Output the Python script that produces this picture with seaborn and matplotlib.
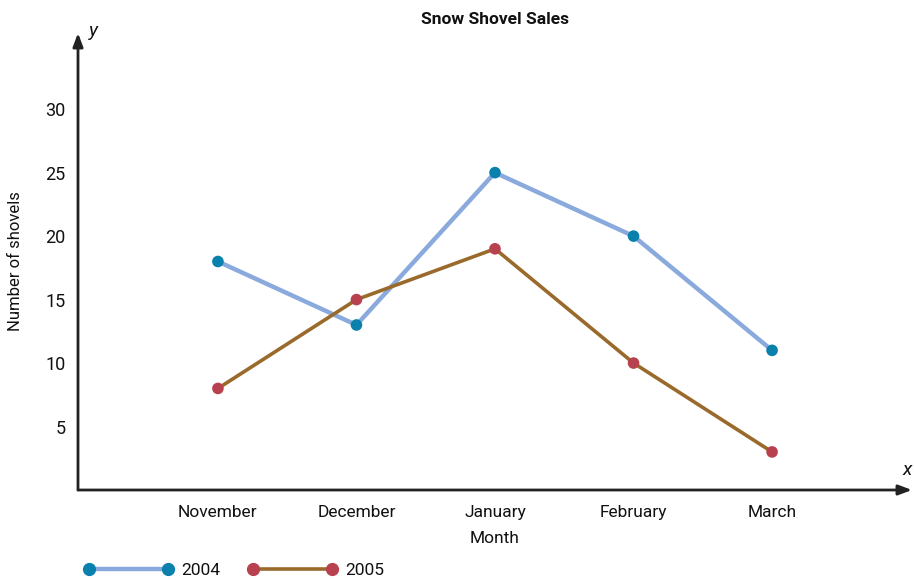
import matplotlib
matplotlib.use("Agg")
import matplotlib.pyplot as plt
import pandas as pd
import seaborn as sns
from matplotlib.lines import Line2D

months = ["November", "December", "January", "February", "March"]
sales_2004 = [18, 13, 25, 20, 11]
sales_2005 = [8, 15, 19, 10, 3]
years = ["2004", "2005"]
y_ticks = [5, 10, 15, 20, 25, 30]

line_colors = {"2004": "#8aaadd", "2005": "#9a6a2c"}
dot_colors = {"2004": "#0a80ad", "2005": "#b8414f"}
line_widths = {"2004": 3.2, "2005": 2.6}

df = pd.DataFrame({
    "month": months * 2,
    "sales": sales_2004 + sales_2005,
    "year": ["2004"] * len(months) + ["2005"] * len(months),
})

sns.set_style("white")
plt.rcParams["font.family"] = ["Roboto", "DejaVu Sans"]
plt.rcParams["text.color"] = "#111111"
plt.rcParams["axes.labelcolor"] = "#111111"
plt.rcParams["xtick.color"] = "#111111"
plt.rcParams["ytick.color"] = "#111111"

fig = plt.figure(figsize=(9.14, 5.8), dpi=100)
ax = fig.add_axes([78 / 914, 90 / 580, 834 / 914, 457 / 580])

for yr in years:
    sub = df[df["year"] == yr]
    sns.lineplot(data=sub, x="month", y="sales", color=line_colors[yr],
                 linewidth=line_widths[yr], sort=False, ax=ax, legend=False)
    sns.scatterplot(data=sub, x="month", y="sales", color=dot_colors[yr],
                    s=70, edgecolor="none", zorder=5, ax=ax, legend=False)

ax.set_xlim(-1.01, 5.01)
ax.set_ylim(0, 36)
ax.set_yticks(y_ticks)
ax.tick_params(axis="y", direction="inout", length=10, width=1.2,
               labelsize=13, pad=4, color="#222222")
ax.tick_params(axis="x", length=0, labelsize=12.5, pad=11)
for s in ax.spines.values():
    s.set_visible(False)

# axes with arrow heads
arrow = dict(arrowstyle="-|>,head_length=0.8,head_width=0.3",
             color="#222222", lw=2, shrinkA=0, shrinkB=0)
ax.annotate("", xy=(0, 1), xytext=(0, 0), xycoords="axes fraction",
            arrowprops=arrow)
ax.annotate("", xy=(1, 0), xytext=(0, 0), xycoords="axes fraction",
            arrowprops=arrow)
fig.text(89 / 914, 1 - 31 / 580, "y", fontsize=14, style="italic", va="center")
fig.text(903 / 914, 1 - 470 / 580, "x", fontsize=14, style="italic", va="center")

ax.set_xlabel("Month", fontsize=12.5, labelpad=8)
ax.set_ylabel("Number of shovels", fontsize=12, labelpad=16)
fig.text(495 / 914, 1 - 19 / 580, "Snow Shovel Sales", fontsize=12.5,
         fontweight="bold", ha="center", va="center")

handles = [
    Line2D([], [], color=line_colors[yr], lw=line_widths[yr], marker="o",
           markersize=8.5, markerfacecolor=dot_colors[yr],
           markeredgecolor=dot_colors[yr])
    for yr in years
]
fig.legend(handles, years, loc="lower left", bbox_to_anchor=(0.075, -0.023),
           ncol=2, frameon=False, numpoints=2, handlelength=5.1,
           fontsize=12.5, columnspacing=1.6, handletextpad=0.5)

fig.savefig("out.png", dpi=100)
